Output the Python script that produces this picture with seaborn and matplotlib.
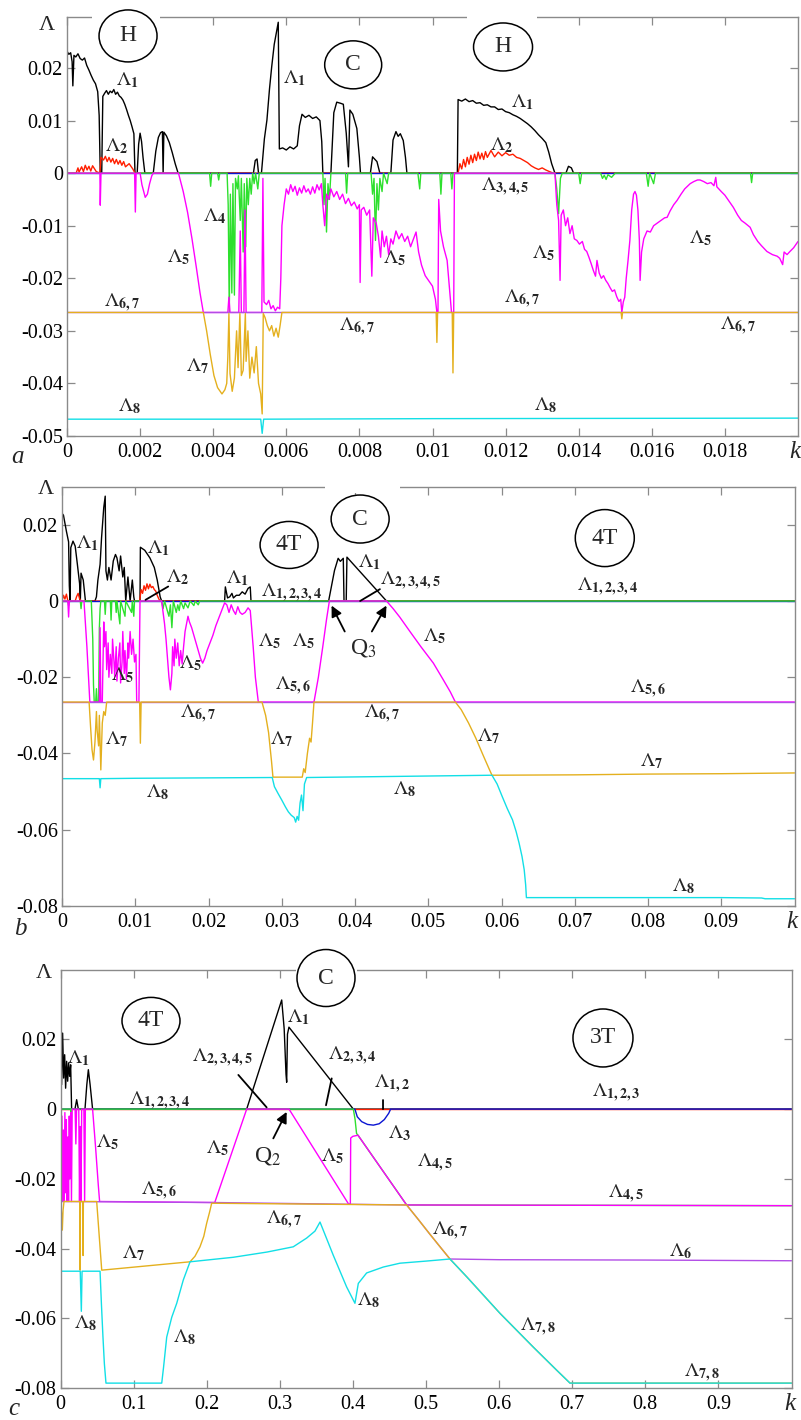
import matplotlib
matplotlib.use("Agg")
import matplotlib.pyplot as plt
import seaborn as sns
from matplotlib.patches import Ellipse, Rectangle
from matplotlib.transforms import blended_transform_factory

# ------------------------------------------------------------------
# Lyapunov spectrum Λ1..Λ8 versus coupling k, three ranges of k
# ------------------------------------------------------------------

# ---------------- panel a : k in [0, 0.02] ----------------
A_L1 = [(0.00000, 0.0232), (0.00005, 0.0226), (0.00010, 0.0229), (0.00014, 0.0212), (0.00016, 0.0166),
        (0.00019, 0.0224), (0.00024, 0.0221), (0.00030, 0.0227), (0.00036, 0.0218), (0.00042, 0.0215),
        (0.00048, 0.0219), (0.00054, 0.0205), (0.00060, 0.0196), (0.00066, 0.0186), (0.00072, 0.0177),
        (0.00078, 0.0170), (0.00084, 0.0155), (0.00088, 0.0110), (0.00091, 0.0000), (0.00095, 0.0000),
        (0.00098, 0.0146), (0.00103, 0.0152), (0.00108, 0.0157), (0.00113, 0.0150), (0.00118, 0.0156),
        (0.00123, 0.0153), (0.00128, 0.0159), (0.00133, 0.0150), (0.00138, 0.0154), (0.00143, 0.0147),
        (0.00148, 0.0144), (0.00153, 0.0139), (0.00158, 0.0131), (0.00163, 0.0121), (0.00168, 0.0110),
        (0.00173, 0.0100), (0.00178, 0.0088), (0.00183, 0.0075), (0.00186, 0.0000), (0.00192, 0.0000),
        (0.00196, 0.0055), (0.00200, 0.0076), (0.00204, 0.0060), (0.00208, 0.0030), (0.00213, 0.0000),
        (0.00236, 0.0000), (0.00243, 0.0042), (0.00250, 0.0068), (0.00256, 0.0077), (0.00261, 0.0079),
        (0.00263, 0.0000), (0.00265, 0.0078), (0.00272, 0.0071), (0.00280, 0.0058), (0.00288, 0.0039),
        (0.00296, 0.0018), (0.00304, 0.0000),
        (0.00510, 0.0000), (0.00515, 0.0024), (0.00520, 0.0027), (0.00524, 0.0000),
        (0.00532, 0.0000), (0.00540, 0.0065), (0.00547, 0.0101), (0.00554, 0.0160), (0.00560, 0.0202),
        (0.00567, 0.0245), (0.00574, 0.0272), (0.00578, 0.0287), (0.00581, 0.0046),
        (0.00590, 0.0048), (0.00600, 0.0044), (0.00610, 0.0050), (0.00620, 0.0046), (0.00630, 0.0052),
        (0.00636, 0.0090), (0.00643, 0.0112), (0.00652, 0.0106), (0.00662, 0.0110), (0.00672, 0.0104),
        (0.00682, 0.0107), (0.00692, 0.0100), (0.00697, 0.0060), (0.00700, 0.0000),
        (0.00722, 0.0000), (0.00730, 0.0115), (0.00738, 0.0135), (0.00748, 0.0133), (0.00756, 0.0131),
        (0.00764, 0.0076), (0.00770, 0.0012), (0.00774, 0.0120), (0.00782, 0.0112), (0.00793, 0.0085),
        (0.00800, 0.0030), (0.00803, 0.0000),
        (0.00830, 0.0000), (0.00836, 0.0031), (0.00848, 0.0022), (0.00856, 0.0000),
        (0.00886, 0.0000), (0.00892, 0.0063), (0.00900, 0.0079), (0.00906, 0.0070), (0.00912, 0.0075),
        (0.00920, 0.0062), (0.00926, 0.0030), (0.00930, 0.0000),
        (0.01068, 0.0000), (0.01070, 0.0140), (0.01080, 0.0137), (0.01090, 0.0141), (0.01100, 0.0136),
        (0.01110, 0.0138), (0.01120, 0.0133), (0.01130, 0.0134), (0.01140, 0.0129), (0.01150, 0.0130),
        (0.01160, 0.0126), (0.01170, 0.0126), (0.01180, 0.0121), (0.01190, 0.0122), (0.01200, 0.0117),
        (0.01210, 0.0115), (0.01220, 0.0111), (0.01230, 0.0108), (0.01240, 0.0104), (0.01250, 0.0099),
        (0.01260, 0.0094), (0.01270, 0.0088), (0.01280, 0.0081), (0.01290, 0.0073), (0.01300, 0.0066),
        (0.01310, 0.0058), (0.01318, 0.0040), (0.01326, 0.0018), (0.01335, 0.0000),
        (0.01365, 0.0000), (0.01372, 0.0013), (0.01380, 0.0010), (0.01386, 0.0000), (0.02000, 0.0000)]

A_L2 = [(0.00000, 0.0000), (0.00025, 0.0000), (0.00030, 0.0010), (0.00033, 0.0002), (0.00040, 0.0012),
        (0.00045, 0.0003), (0.00050, 0.0015), (0.00055, 0.0006), (0.00060, 0.0013), (0.00065, 0.0004),
        (0.00070, 0.0014), (0.00080, 0.0003), (0.00090, 0.0000), (0.00093, 0.0030), (0.00100, 0.0025),
        (0.00105, 0.0032), (0.00110, 0.0022), (0.00115, 0.0030), (0.00120, 0.0021), (0.00125, 0.0028),
        (0.00130, 0.0018), (0.00135, 0.0026), (0.00140, 0.0017), (0.00145, 0.0024), (0.00150, 0.0015),
        (0.00155, 0.0022), (0.00160, 0.0012), (0.00170, 0.0018), (0.00180, 0.0008), (0.00186, 0.0000),
        (0.01070, 0.0000), (0.01075, 0.0018), (0.01080, 0.0008), (0.01085, 0.0026), (0.01090, 0.0012),
        (0.01095, 0.0030), (0.01100, 0.0017), (0.01105, 0.0034), (0.01110, 0.0020), (0.01115, 0.0036),
        (0.01120, 0.0024), (0.01125, 0.0040), (0.01130, 0.0027), (0.01135, 0.0038), (0.01140, 0.0026),
        (0.01145, 0.0041), (0.01150, 0.0030), (0.01160, 0.0043), (0.01170, 0.0031), (0.01180, 0.0040),
        (0.01190, 0.0033), (0.01200, 0.0039), (0.01210, 0.0034), (0.01220, 0.0036), (0.01230, 0.0030),
        (0.01240, 0.0028), (0.01250, 0.0024), (0.01260, 0.0020), (0.01270, 0.0014), (0.01280, 0.0010),
        (0.01290, 0.0007), (0.01300, 0.0010), (0.01310, 0.0006), (0.01320, 0.0003), (0.01330, 0.0000),
        (0.02000, 0.0000)]

A_L3 = [(0.0, 0.0), (0.02, 0.0)]

A_L4 = [(0.00000, 0.0000), (0.00390, 0.0000), (0.00393, -0.0025), (0.00396, 0.0000), (0.00412, 0.0000),
        (0.00415, -0.0013), (0.00418, 0.0000), (0.00438, 0.0000), (0.00441, -0.0060), (0.00444, -0.0265),
        (0.00447, -0.0040), (0.00451, -0.0228), (0.00454, -0.0020), (0.00458, -0.0232), (0.00461, -0.0010),
        (0.00466, -0.0030), (0.00469, -0.0005), (0.00474, -0.0090), (0.00477, -0.0010), (0.00482, -0.0150),
        (0.00485, -0.0020), (0.00489, -0.0140), (0.00492, -0.0010), (0.00496, -0.0060), (0.00500, -0.0010),
        (0.00504, -0.0040), (0.00508, 0.0000), (0.00512, -0.0020), (0.00516, 0.0000), (0.00522, -0.0030),
        (0.00526, 0.0000), (0.00700, 0.0000), (0.00703, -0.0060), (0.00706, -0.0010), (0.00710, -0.0112),
        (0.00714, -0.0020), (0.00718, -0.0050), (0.00722, 0.0000), (0.00762, 0.0000), (0.00765, -0.0038),
        (0.00768, 0.0000), (0.00832, 0.0000), (0.00836, -0.0040), (0.00840, -0.0010), (0.00844, -0.0128),
        (0.00848, -0.0020), (0.00852, -0.0070), (0.00856, -0.0010), (0.00862, -0.0035), (0.00866, 0.0000),
        (0.00876, -0.0020), (0.00880, 0.0000), (0.00960, 0.0000), (0.00965, -0.0030), (0.00968, 0.0000),
        (0.01020, 0.0000), (0.01023, -0.0040), (0.01026, 0.0000), (0.01050, 0.0000), (0.01053, -0.0030),
        (0.01056, 0.0000), (0.01335, 0.0000), (0.01340, -0.0030), (0.01345, -0.0077), (0.01350, -0.0010),
        (0.01355, 0.0000), (0.01400, 0.0000), (0.01404, -0.0020), (0.01408, 0.0000), (0.01460, 0.0000),
        (0.01465, -0.0010), (0.01470, -0.0004), (0.01475, -0.0012), (0.01480, -0.0003), (0.01490, -0.0008),
        (0.01500, 0.0000), (0.01585, 0.0000), (0.01590, -0.0025), (0.01594, 0.0000), (0.01605, -0.0020),
        (0.01610, 0.0000), (0.01870, 0.0000), (0.01873, -0.0018), (0.01876, 0.0000), (0.02000, 0.0000)]

A_L5 = [(0.00000, 0.0000), (0.00090, 0.0000), (0.00091, -0.0061), (0.00093, 0.0000), (0.00185, 0.0000),
        (0.00187, -0.0074), (0.00189, 0.0000), (0.00200, 0.0000), (0.00205, -0.0022), (0.00210, -0.0035),
        (0.00214, -0.0046), (0.00220, -0.0040), (0.00226, -0.0020), (0.00232, -0.0005), (0.00236, 0.0000),
        (0.00305, 0.0000), (0.00318, -0.0035), (0.00330, -0.0075), (0.00342, -0.0125), (0.00354, -0.0180),
        (0.00364, -0.0228), (0.00373, -0.0265), (0.00440, -0.0265), (0.00443, -0.0236), (0.00446, -0.0265),
        (0.00470, -0.0265), (0.00474, -0.0110), (0.00477, -0.0265), (0.00484, -0.0265), (0.00487, -0.0070),
        (0.00490, -0.0265), (0.00533, -0.0265), (0.00536, -0.0010), (0.00539, -0.0245), (0.00546, -0.0250),
        (0.00552, -0.0242), (0.00558, -0.0258), (0.00564, -0.0252), (0.00570, -0.0262), (0.00576, -0.0255),
        (0.00582, -0.0258), (0.00585, -0.0200), (0.00588, -0.0100), (0.00594, -0.0060), (0.00600, -0.0030),
        (0.00606, -0.0040), (0.00612, -0.0022), (0.00618, -0.0035), (0.00624, -0.0025), (0.00630, -0.0042),
        (0.00636, -0.0028), (0.00642, -0.0038), (0.00648, -0.0024), (0.00654, -0.0036), (0.00660, -0.0030),
        (0.00666, -0.0040), (0.00672, -0.0026), (0.00678, -0.0038), (0.00684, -0.0022), (0.00690, -0.0032),
        (0.00696, -0.0020), (0.00700, -0.0060), (0.00705, -0.0100), (0.00710, -0.0040), (0.00716, -0.0050),
        (0.00722, -0.0030), (0.00730, -0.0045), (0.00738, -0.0035), (0.00746, -0.0050), (0.00754, -0.0040),
        (0.00762, -0.0058), (0.00770, -0.0048), (0.00778, -0.0062), (0.00786, -0.0055), (0.00794, -0.0068),
        (0.00800, -0.0060), (0.00802, -0.0208), (0.00805, -0.0070), (0.00812, -0.0065), (0.00820, -0.0080),
        (0.00828, -0.0070), (0.00834, -0.0196), (0.00838, -0.0085), (0.00846, -0.0095), (0.00852, -0.0120),
        (0.00858, -0.0160), (0.00862, -0.0110), (0.00868, -0.0140), (0.00874, -0.0120), (0.00880, -0.0155),
        (0.00886, -0.0125), (0.00892, -0.0135), (0.00900, -0.0110), (0.00908, -0.0125), (0.00916, -0.0115),
        (0.00924, -0.0130), (0.00932, -0.0120), (0.00940, -0.0140), (0.00948, -0.0125), (0.00955, -0.0112),
        (0.00962, -0.0150), (0.00970, -0.0175), (0.00980, -0.0195), (0.00990, -0.0205), (0.01000, -0.0215),
        (0.01008, -0.0240), (0.01012, -0.0265), (0.01015, -0.0265), (0.01017, -0.0050), (0.01022, -0.0110),
        (0.01030, -0.0140), (0.01040, -0.0166), (0.01046, -0.0216), (0.01052, -0.0265), (0.01058, -0.0265),
        (0.01060, 0.0000), (0.01335, 0.0000), (0.01340, -0.0060), (0.01345, -0.0090), (0.01349, -0.0204),
        (0.01352, -0.0080), (0.01358, -0.0070), (0.01364, -0.0100), (0.01370, -0.0085), (0.01376, -0.0115),
        (0.01382, -0.0100), (0.01388, -0.0125), (0.01395, -0.0128), (0.01402, -0.0135), (0.01410, -0.0130),
        (0.01416, -0.0145), (0.01422, -0.0149), (0.01428, -0.0160), (0.01434, -0.0172), (0.01440, -0.0185),
        (0.01446, -0.0196), (0.01450, -0.0166), (0.01456, -0.0190), (0.01462, -0.0200), (0.01468, -0.0195),
        (0.01474, -0.0204), (0.01480, -0.0210), (0.01486, -0.0218), (0.01492, -0.0225), (0.01498, -0.0222),
        (0.01504, -0.0235), (0.01510, -0.0244), (0.01515, -0.0240), (0.01518, -0.0265), (0.01522, -0.0245),
        (0.01526, -0.0236), (0.01530, -0.0200), (0.01535, -0.0166), (0.01540, -0.0128), (0.01545, -0.0070),
        (0.01550, -0.0040), (0.01554, -0.0035), (0.01558, -0.0042), (0.01562, -0.0070), (0.01566, -0.0128),
        (0.01568, -0.0204), (0.01572, -0.0150), (0.01578, -0.0125), (0.01587, -0.0110), (0.01596, -0.0112),
        (0.01605, -0.0100), (0.01615, -0.0095), (0.01625, -0.0090), (0.01635, -0.0085), (0.01642, -0.0084),
        (0.01650, -0.0072), (0.01660, -0.0060), (0.01669, -0.0052), (0.01680, -0.0040), (0.01690, -0.0030),
        (0.01696, -0.0026), (0.01705, -0.0020), (0.01715, -0.0016), (0.01725, -0.0013), (0.01732, -0.0013),
        (0.01742, -0.0016), (0.01752, -0.0020), (0.01762, -0.0018), (0.01770, -0.0024), (0.01775, -0.0008),
        (0.01778, -0.0026), (0.01790, -0.0035), (0.01800, -0.0042), (0.01810, -0.0052), (0.01823, -0.0065),
        (0.01835, -0.0080), (0.01845, -0.0090), (0.01855, -0.0095), (0.01869, -0.0103), (0.01878, -0.0117),
        (0.01890, -0.0130), (0.01900, -0.0138), (0.01915, -0.0149), (0.01930, -0.0155), (0.01943, -0.0158),
        (0.01950, -0.0162), (0.01958, -0.0174), (0.01962, -0.0150), (0.01970, -0.0155), (0.01978, -0.0149),
        (0.01988, -0.0142), (0.02000, -0.0130)]

A_L6 = [(0.0, -0.0265), (0.02, -0.0265)]

A_L7 = [(0.00000, -0.0265), (0.00373, -0.0265), (0.00382, -0.0300), (0.00392, -0.0345), (0.00402, -0.0385),
        (0.00412, -0.0408), (0.00424, -0.0420), (0.00432, -0.0412), (0.00437, -0.0400), (0.00440, -0.0350),
        (0.00443, -0.0267), (0.00446, -0.0381), (0.00452, -0.0415), (0.00458, -0.0390), (0.00464, -0.0300),
        (0.00468, -0.0370), (0.00473, -0.0267), (0.00477, -0.0385), (0.00482, -0.0375), (0.00488, -0.0267),
        (0.00490, -0.0358), (0.00495, -0.0300), (0.00500, -0.0390), (0.00506, -0.0350), (0.00512, -0.0380),
        (0.00518, -0.0330), (0.00524, -0.0400), (0.00530, -0.0420), (0.00534, -0.0458), (0.00537, -0.0267),
        (0.00542, -0.0275), (0.00548, -0.0290), (0.00554, -0.0300), (0.00560, -0.0290), (0.00566, -0.0310),
        (0.00572, -0.0295), (0.00578, -0.0312), (0.00583, -0.0290), (0.00588, -0.0265), (0.01010, -0.0265),
        (0.01012, -0.0322), (0.01014, -0.0265), (0.01054, -0.0265), (0.01056, -0.0380), (0.01058, -0.0265),
        (0.01516, -0.0265), (0.01518, -0.0277), (0.01520, -0.0265), (0.02000, -0.0265)]

A_L8 = [(0.00000, -0.0468), (0.00530, -0.0468), (0.00534, -0.0495), (0.00538, -0.0468), (0.01000, -0.0467),
        (0.02000, -0.0466)]

# ---------------- panel b : k in [0, 0.1] ----------------
B_L1 = [(0.0000, 0.0230), (0.0002, 0.0225), (0.0004, 0.0204), (0.0006, 0.0183), (0.0009, 0.0155),
        (0.0010, 0.0040), (0.0011, 0.0000), (0.0012, 0.0140), (0.0015, 0.0157), (0.0018, 0.0144),
        (0.0021, 0.0096), (0.0024, 0.0046), (0.0025, 0.0000), (0.0026, 0.0073), (0.0029, 0.0055),
        (0.0032, 0.0000), (0.0045, 0.0000), (0.0047, 0.0011), (0.0049, 0.0055), (0.0052, 0.0096),
        (0.0054, 0.0166), (0.0057, 0.0245), (0.0059, 0.0275), (0.0060, 0.0079), (0.0062, 0.0055),
        (0.0064, 0.0088), (0.0067, 0.0055), (0.0070, 0.0105), (0.0073, 0.0122), (0.0075, 0.0113),
        (0.0078, 0.0079), (0.0080, 0.0118), (0.0083, 0.0063), (0.0085, 0.0088), (0.0087, 0.0000),
        (0.0090, 0.0063), (0.0093, 0.0000), (0.0096, 0.0055), (0.0098, 0.0011), (0.0099, 0.0000),
        (0.01065, 0.0000), (0.0107, 0.0141), (0.0113, 0.0133), (0.0120, 0.0113), (0.0126, 0.0088),
        (0.0130, 0.0055), (0.0134, 0.0011), (0.0136, 0.0000), (0.0222, 0.0000), (0.0223, 0.0037),
        (0.0226, 0.0008), (0.0229, 0.0011), (0.0232, 0.0020), (0.0234, 0.0008), (0.0238, 0.0015),
        (0.0242, 0.0015), (0.0246, 0.0024), (0.0250, 0.0018), (0.0254, 0.0033), (0.0257, 0.0037),
        (0.0258, 0.0000), (0.0364, 0.0000), (0.0372, 0.0080), (0.0377, 0.0112), (0.0380, 0.0104),
        (0.0384, 0.0112), (0.0385, 0.0000), (0.0388, 0.0000), (0.0389, 0.0115), (0.0443, 0.0000),
        (0.1000, 0.0000)]

B_L2 = [(0.0000, 0.0000), (0.0002, 0.0015), (0.0004, 0.0005), (0.0006, 0.0018), (0.0008, 0.0000),
        (0.0018, 0.0000), (0.0020, 0.0012), (0.0022, 0.0020), (0.0024, 0.0006), (0.0026, 0.0000),
        (0.0106, 0.0000), (0.0108, 0.0030), (0.0110, 0.0020), (0.0112, 0.0040), (0.0114, 0.0028),
        (0.0116, 0.0045), (0.0118, 0.0032), (0.0120, 0.0044), (0.0122, 0.0035), (0.0124, 0.0038),
        (0.0126, 0.0030), (0.0128, 0.0026), (0.0130, 0.0015), (0.0132, 0.0006), (0.0134, 0.0000),
        (0.1000, 0.0000)]

B_L3 = [(0.0, 0.0), (0.1, 0.0)]

B_L4 = [(0.0000, 0.0000), (0.0008, 0.0000), (0.0009, -0.0012), (0.0010, 0.0000), (0.0025, 0.0000),
        (0.0026, -0.0020), (0.0027, 0.0000), (0.0040, 0.0000), (0.0042, -0.0100), (0.0043, -0.0220),
        (0.0044, -0.0265), (0.0046, -0.0265), (0.0047, -0.0230), (0.0048, -0.0265), (0.0050, -0.0265),
        (0.0051, -0.0070), (0.0052, -0.0020), (0.0053, 0.0000), (0.0058, 0.0000), (0.0059, -0.0035),
        (0.0060, 0.0000), (0.0066, 0.0000), (0.0067, -0.0050), (0.0068, 0.0000), (0.0073, 0.0000),
        (0.0074, -0.0030), (0.0075, 0.0000), (0.0079, -0.0060), (0.0080, 0.0000), (0.0086, -0.0040),
        (0.0087, 0.0000), (0.0095, -0.0030), (0.0096, 0.0000), (0.0098, -0.0040), (0.0099, 0.0000),
        (0.0136, 0.0000), (0.0138, -0.0020), (0.0140, 0.0000), (0.0146, -0.0040), (0.0148, -0.0010),
        (0.0150, -0.0070), (0.0152, 0.0000), (0.0156, -0.0030), (0.0158, -0.0010), (0.0160, -0.0025),
        (0.0162, 0.0000), (0.0166, -0.0020), (0.0168, -0.0005), (0.0172, -0.0018), (0.0175, 0.0000),
        (0.0180, -0.0012), (0.0182, 0.0000), (0.0186, -0.0010), (0.0188, 0.0000), (0.1000, 0.0000)]

B_L5 = [(0.0000, 0.0000), (0.0008, 0.0000), (0.0009, -0.0042), (0.0010, 0.0000), (0.0030, 0.0000),
        (0.0034, -0.0120), (0.0038, -0.0265), (0.0051, -0.0265), (0.0052, -0.0070), (0.0053, -0.0265),
        (0.0055, -0.0265), (0.0057, -0.0055), (0.0058, -0.0120), (0.0060, -0.0080), (0.0061, -0.0180),
        (0.0063, -0.0110), (0.0064, -0.0200), (0.0066, -0.0140), (0.0068, -0.0190), (0.0069, -0.0100),
        (0.0071, -0.0160), (0.0072, -0.0200), (0.0074, -0.0120), (0.0075, -0.0210), (0.0077, -0.0150),
        (0.0079, -0.0110), (0.0080, -0.0215), (0.0082, -0.0160), (0.0083, -0.0080), (0.0085, -0.0190),
        (0.0086, -0.0130), (0.0088, -0.0205), (0.0090, -0.0110), (0.0091, -0.0150), (0.0093, -0.0080),
        (0.0095, -0.0140), (0.0097, -0.0100), (0.0099, -0.0160), (0.0101, -0.0140), (0.0102, -0.0265),
        (0.0105, -0.0265), (0.01065, 0.0000), (0.0136, 0.0000), (0.0138, -0.0030), (0.0140, -0.0060),
        (0.0142, -0.0100), (0.0144, -0.0150), (0.0146, -0.0200), (0.0148, -0.0233), (0.0150, -0.0190),
        (0.0151, -0.0120), (0.0153, -0.0170), (0.0154, -0.0100), (0.0156, -0.0150), (0.0158, -0.0110),
        (0.0160, -0.0170), (0.0162, -0.0130), (0.0164, -0.0165), (0.0166, -0.0120), (0.0168, -0.0080),
        (0.0170, -0.0060), (0.0172, -0.0040), (0.0174, -0.0055), (0.0177, -0.0070), (0.0180, -0.0090),
        (0.0183, -0.0110), (0.0186, -0.0130), (0.0189, -0.0150), (0.0192, -0.0163), (0.0195, -0.0150),
        (0.0198, -0.0130), (0.0202, -0.0110), (0.0206, -0.0090), (0.0210, -0.0065), (0.0214, -0.0045),
        (0.0218, -0.0025), (0.0222, -0.0005), (0.0225, -0.0010), (0.0228, -0.0030), (0.0231, -0.0010),
        (0.0234, -0.0025), (0.0237, -0.0035), (0.0240, -0.0015), (0.0243, -0.0030), (0.0246, -0.0035),
        (0.0250, -0.0030), (0.0254, -0.0018), (0.0257, -0.0025), (0.0261, -0.0120), (0.0264, -0.0200),
        (0.0268, -0.0265), (0.0344, -0.0265), (0.0350, -0.0200), (0.0356, -0.0120), (0.0361, -0.0050),
        (0.0365, 0.0000), (0.0443, 0.0000), (0.0452, -0.0020), (0.0461, -0.0042), (0.0475, -0.0080),
        (0.0490, -0.0120), (0.0507, -0.0163), (0.0520, -0.0205), (0.0530, -0.0238), (0.0537, -0.0265),
        (0.1000, -0.0265)]

B_L6 = [(0.0, -0.0265), (0.1, -0.0265)]

B_L7 = [(0.0000, -0.0265), (0.0037, -0.0265), (0.0039, -0.0330), (0.0041, -0.0390), (0.0043, -0.0417),
        (0.0045, -0.0370), (0.0047, -0.0290), (0.0048, -0.0340), (0.0050, -0.0380), (0.0051, -0.0300),
        (0.0053, -0.0443), (0.0055, -0.0320), (0.0057, -0.0290), (0.0059, -0.0300), (0.0061, -0.0265),
        (0.0106, -0.0265), (0.0107, -0.0373), (0.0108, -0.0265), (0.0273, -0.0265), (0.0278, -0.0300),
        (0.0282, -0.0345), (0.0286, -0.0420), (0.0288, -0.0462), (0.0328, -0.0462), (0.0330, -0.0440),
        (0.0332, -0.0450), (0.0335, -0.0400), (0.0338, -0.0360), (0.0340, -0.0370), (0.0342, -0.0320),
        (0.0344, -0.0265), (0.0537, -0.0265), (0.0545, -0.0285), (0.0555, -0.0320), (0.0565, -0.0360),
        (0.0575, -0.0405), (0.0583, -0.0440), (0.0587, -0.0457), (0.0700, -0.0456), (0.0800, -0.0454),
        (0.0900, -0.0453), (0.1000, -0.0451)]

B_L8 = [(0.0000, -0.0466), (0.0051, -0.0466), (0.0052, -0.0490), (0.0053, -0.0466), (0.0100, -0.0465),
        (0.0287, -0.0463), (0.0290, -0.0487), (0.0295, -0.0505), (0.0300, -0.0522), (0.0305, -0.0540),
        (0.0309, -0.0553), (0.0313, -0.0562), (0.0317, -0.0568), (0.0319, -0.0580), (0.0321, -0.0565),
        (0.0323, -0.0575), (0.0325, -0.0530), (0.0327, -0.0509), (0.0329, -0.0550), (0.0331, -0.0480),
        (0.0334, -0.0463), (0.0587, -0.0457), (0.0594, -0.0480), (0.0601, -0.0513), (0.0608, -0.0545),
        (0.0615, -0.0574), (0.0620, -0.0605), (0.0624, -0.0635), (0.0628, -0.0670), (0.0631, -0.0705),
        (0.0633, -0.0745), (0.0634, -0.0778), (0.0900, -0.0778), (0.0955, -0.0779), (0.0960, -0.0781),
        (0.1000, -0.0781)]

# ---------------- panel c : k in [0, 1] ----------------
C_L1 = [(0.0000, 0.0146), (0.0015, 0.0070), (0.0029, 0.0218), (0.0043, 0.0089), (0.0057, 0.0156),
        (0.0070, 0.0060), (0.0084, 0.0137), (0.0098, 0.0080), (0.0111, 0.0132), (0.0125, 0.0094),
        (0.0139, 0.0127), (0.0152, 0.0000), (0.0198, 0.0000), (0.0221, 0.0027), (0.0244, 0.0000),
        (0.0335, 0.0000), (0.0360, 0.0070), (0.0381, 0.0113), (0.0405, 0.0070), (0.0439, 0.0000),
        (0.2547, 0.0000), (0.3026, 0.0313), (0.3060, 0.0230), (0.3085, 0.0100), (0.3094, 0.0077),
        (0.3105, 0.0215), (0.3125, 0.0235), (0.4006, 0.0000), (1.0000, 0.0000)]

C_L2 = [(0.0, 0.0), (1.0, 0.0)]

C_L3 = [(0.0000, 0.0000), (0.4027, 0.0000), (0.4060, -0.0022), (0.4120, -0.0036), (0.4200, -0.0044),
        (0.4280, -0.0046), (0.4360, -0.0042), (0.4430, -0.0030), (0.4490, -0.0012), (0.4516, 0.0000),
        (1.0000, 0.0000)]

C_L4 = [(0.0000, 0.0000), (0.0140, 0.0000), (0.0143, -0.0030), (0.0146, 0.0000), (0.4006, 0.0000),
        (0.4030, -0.0030), (0.4050, -0.0070), (0.4070, -0.0075), (0.4735, -0.0275), (1.0000, -0.0277)]

C_L5 = [(0.0000, 0.0000), (0.0010, -0.0265), (0.0020, -0.0020), (0.0030, -0.0265), (0.0040, -0.0060),
        (0.0050, -0.0265), (0.0060, -0.0010), (0.0070, -0.0240), (0.0080, -0.0030), (0.0090, -0.0265),
        (0.0100, -0.0080), (0.0110, -0.0265), (0.0120, -0.0020), (0.0130, -0.0200), (0.0140, -0.0010),
        (0.0150, -0.0265), (0.0160, 0.0000), (0.0200, 0.0000), (0.0210, -0.0100), (0.0220, 0.0000),
        (0.0250, 0.0000), (0.0260, -0.0265), (0.0270, -0.0050), (0.0280, -0.0265), (0.0290, 0.0000),
        (0.0320, 0.0000), (0.0330, -0.0265), (0.0340, 0.0000), (0.0439, 0.0000), (0.0480, -0.0110),
        (0.0517, -0.0218), (0.0535, -0.0265), (0.2110, -0.0268), (0.2547, 0.0000), (0.3126, 0.0000),
        (0.3940, -0.0272), (0.3965, -0.0272), (0.3970, -0.0083), (0.4000, -0.0078), (0.4070, -0.0075),
        (0.4735, -0.0275), (1.0000, -0.0277)]

C_L6 = [(0.0000, -0.0265), (0.2110, -0.0268), (0.4735, -0.0275), (0.4900, -0.0318), (0.5050, -0.0358),
        (0.5200, -0.0397), (0.5328, -0.0430), (0.6000, -0.0432), (0.8000, -0.0433), (1.0000, -0.0435)]

C_L7 = [(0.0000, -0.0265), (0.0015, -0.0300), (0.0025, -0.0347), (0.0035, -0.0290), (0.0048, -0.0265),
        (0.0265, -0.0265), (0.0268, -0.0462), (0.0272, -0.0265), (0.0305, -0.0265), (0.0309, -0.0420),
        (0.0313, -0.0265), (0.0495, -0.0265), (0.0564, -0.0462), (0.1772, -0.0438), (0.1840, -0.0422),
        (0.1908, -0.0395), (0.1960, -0.0365), (0.1999, -0.0328), (0.2040, -0.0295), (0.2068, -0.0270),
        (0.4735, -0.0275), (0.4900, -0.0318), (0.5050, -0.0358), (0.5200, -0.0397), (0.5328, -0.0430),
        (0.5557, -0.0481), (0.6013, -0.0586), (0.6469, -0.0683), (0.6788, -0.0749), (0.6970, -0.0786),
        (1.0000, -0.0786)]

C_L8 = [(0.0000, -0.0465), (0.0270, -0.0465), (0.0285, -0.0580), (0.0295, -0.0465), (0.0541, -0.0465),
        (0.0560, -0.0560), (0.0580, -0.0650), (0.0600, -0.0730), (0.0622, -0.0786), (0.1385, -0.0786),
        (0.1410, -0.0740), (0.1453, -0.0654), (0.1522, -0.0597), (0.1590, -0.0557), (0.1680, -0.0490),
        (0.1772, -0.0438), (0.2365, -0.0425), (0.2826, -0.0410), (0.3184, -0.0395), (0.3367, -0.0370),
        (0.3481, -0.0350), (0.3550, -0.0324), (0.3731, -0.0419), (0.3914, -0.0510), (0.4028, -0.0557),
        (0.4074, -0.0500), (0.4188, -0.0470), (0.4416, -0.0453), (0.4644, -0.0442), (0.5000, -0.0436),
        (0.5328, -0.0430), (0.5557, -0.0481), (0.6013, -0.0586), (0.6469, -0.0683), (0.6788, -0.0749),
        (0.6970, -0.0786), (1.0000, -0.0786)]

# axis ticks and their labels
A_XTICKS = [0, 0.002, 0.004, 0.006, 0.008, 0.01, 0.012, 0.014, 0.016, 0.018]
A_XLABELS = ["0", "0.002", "0.004", "0.006", "0.008", "0.01", "0.012", "0.014", "0.016", "0.018"]
A_YTICKS = [-0.05, -0.04, -0.03, -0.02, -0.01, 0, 0.01, 0.02]
A_YLABELS = ["-0.05", "-0.04", "-0.03", "-0.02", "-0.01", "0", "0.01", "0.02"]
B_XTICKS = [0, 0.01, 0.02, 0.03, 0.04, 0.05, 0.06, 0.07, 0.08, 0.09]
B_XLABELS = ["0", "0.01", "0.02", "0.03", "0.04", "0.05", "0.06", "0.07", "0.08", "0.09"]
BC_YTICKS = [-0.08, -0.06, -0.04, -0.02, 0, 0.02]
BC_YLABELS = ["-0.08", "-0.06", "-0.04", "-0.02", "0", "0.02"]
C_XTICKS = [0, 0.1, 0.2, 0.3, 0.4, 0.5, 0.6, 0.7, 0.8, 0.9]
C_XLABELS = ["0", "0.1", "0.2", "0.3", "0.4", "0.5", "0.6", "0.7", "0.8", "0.9"]

# one colour per exponent, Λ1 .. Λ8 (later ones are drawn on top)
COLORS = ["#000000", "#ff1e00", "#0a14d2", "#2ee02e", "#ff00ff", "#b24ee6", "#e4b01e", "#12dfe6"]

# ------------------------------------------------------------------
sns.set_style("ticks")
plt.rcParams["font.family"] = ["Liberation Serif", "DejaVu Serif"]
plt.rcParams["mathtext.fontset"] = "stix"
plt.rcParams["axes.unicode_minus"] = False

W, H = 801, 1420
fig = plt.figure(figsize=(W / 100, H / 100), dpi=100)
ax_a = fig.add_axes([67 / W, 1 - 436 / H, 731 / W, 419 / H])
ax_b = fig.add_axes([62 / W, 1 - 906 / H, 732.5 / W, 419 / H])
ax_c = fig.add_axes([60.5 / W, 1 - 1388 / H, 731 / W, 418 / H])

SPINE = "#8a8a8a"
SERIF = ["Liberation Serif", "DejaVu Serif"]


def draw_spectrum(ax, curves):
    for pts, col in zip(curves, COLORS):
        ks = [p[0] for p in pts]
        ls = [p[1] for p in pts]
        sns.lineplot(x=ks, y=ls, ax=ax, color=col, lw=1.0, sort=False, estimator=None)


def style_axes(ax, xlim, ylim, xt, xl, yt, yl):
    ax.set_xlim(xlim)
    ax.set_ylim(ylim)
    ax.set_xticks(xt)
    ax.set_xticklabels(xl, family=SERIF)
    ax.set_yticks(yt)
    ax.set_yticklabels(yl, family=SERIF)
    ax.set_xlabel("")
    ax.set_ylabel("")
    ax.tick_params(direction="in", length=6, width=0.9, color=SPINE, top=True, right=True,
                   labelsize=14.5, labelcolor="black")
    ax.tick_params(axis="x", pad=5)
    ax.tick_params(axis="y", pad=3)
    for s in ax.spines.values():
        s.set_color(SPINE)
        s.set_linewidth(1.0)


def lam(ax, k, v, sub, fs=14.5):
    ax.text(k, v, r"$\Lambda_{\mathbf{%s}}$" % sub, ha="center", va="center", fontsize=fs, zorder=8)


def badge(ax, k, v, txt, wpx, hpx):
    bb = ax.get_position()
    axw = bb.width * W
    axh = bb.height * H
    x0, x1 = ax.get_xlim()
    y0, y1 = ax.get_ylim()
    ax.add_patch(Ellipse((k, v), wpx * (x1 - x0) / axw, hpx * (y1 - y0) / axh, facecolor="white",
                         edgecolor="black", lw=1.1, zorder=9, clip_on=False))
    ax.text(k, v, txt, ha="center", va="center", fontsize=17, family=SERIF, zorder=10)


def spine_gap(ax, k0, k1):
    tr = blended_transform_factory(ax.transData, ax.transAxes)
    ax.add_patch(Rectangle((k0, 0.985), k1 - k0, 0.03, transform=tr, facecolor="white",
                           edgecolor="none", zorder=8, clip_on=False))


def pointer(ax, tail, head, arrow=False):
    ax.annotate("", xy=head, xytext=tail,
                arrowprops=dict(arrowstyle="-|>" if arrow else "-", color="black", lw=1.3,
                                mutation_scale=16, shrinkA=0, shrinkB=0), zorder=8)


# ---------------- panel a ----------------
draw_spectrum(ax_a, [A_L1, A_L2, A_L3, A_L4, A_L5, A_L6, A_L7, A_L8])
style_axes(ax_a, (0, 0.02), (-0.05, 0.0297), A_XTICKS, A_XLABELS, A_YTICKS, A_YLABELS)
spine_gap(ax_a, 0.00068, 0.00254)
spine_gap(ax_a, 0.01094, 0.01286)
badge(ax_a, 0.00167, 0.0261, "H", 58, 52)
badge(ax_a, 0.00783, 0.0206, "C", 57, 48)
badge(ax_a, 0.01193, 0.0240, "H", 59, 48)
lam(ax_a, 0.00164, 0.0177, "1")
lam(ax_a, 0.00621, 0.0181, "1")
lam(ax_a, 0.01245, 0.0135, "1")
lam(ax_a, 0.00137, 0.0050, "2")
lam(ax_a, 0.01190, 0.0053, "2")
lam(ax_a, 0.01200, -0.0027, "3,4,5")
lam(ax_a, 0.00405, -0.0082, "4")
lam(ax_a, 0.00306, -0.0160, "5")
lam(ax_a, 0.00897, -0.0162, "5")
lam(ax_a, 0.01305, -0.0152, "5")
lam(ax_a, 0.01732, -0.0124, "5")
lam(ax_a, 0.00150, -0.0246, "6,7")
lam(ax_a, 0.00793, -0.0293, "6,7")
lam(ax_a, 0.01245, -0.0240, "6,7")
lam(ax_a, 0.01836, -0.0291, "6,7")
lam(ax_a, 0.00358, -0.0368, "7")
lam(ax_a, 0.00172, -0.0444, "8")
lam(ax_a, 0.01308, -0.0442, "8")

# ---------------- panel b ----------------
draw_spectrum(ax_b, [B_L1, B_L2, B_L3, B_L4, B_L5, B_L6, B_L7, B_L8])
style_axes(ax_b, (0, 0.1), (-0.08, 0.0299), B_XTICKS, B_XLABELS, BC_YTICKS, BC_YLABELS)
spine_gap(ax_b, 0.0359, 0.0461)
badge(ax_b, 0.0310, 0.0147, "4T", 58, 47)
badge(ax_b, 0.0407, 0.0215, "C", 58, 48)
badge(ax_b, 0.0741, 0.0165, "4T", 59, 57)
lam(ax_b, 0.0034, 0.0152, "1")
lam(ax_b, 0.0131, 0.0139, "1")
lam(ax_b, 0.0158, 0.0063, "2")
pointer(ax_b, (0.0145, 0.0038), (0.0114, 0.0003))
lam(ax_b, 0.0239, 0.0060, "1")
lam(ax_b, 0.0313, 0.0021, "1,2,3,4")
lam(ax_b, 0.0420, 0.0102, "1")
lam(ax_b, 0.0476, 0.0052, "2,3,4,5")
pointer(ax_b, (0.0434, 0.0031), (0.0407, 0.0))
ax_b.text(0.0411, -0.0123, r"Q$_{3}$", ha="center", va="center", fontsize=17, family=SERIF, zorder=8)
pointer(ax_b, (0.0386, -0.0080), (0.0368, -0.0012), arrow=True)
pointer(ax_b, (0.0423, -0.0080), (0.0443, -0.0012), arrow=True)
lam(ax_b, 0.0745, 0.0037, "1,2,3,4")
lam(ax_b, 0.0082, -0.0194, "5")
lam(ax_b, 0.0176, -0.0165, "5")
lam(ax_b, 0.0283, -0.0107, "5")
lam(ax_b, 0.0330, -0.0107, "5")
lam(ax_b, 0.0509, -0.0094, "5")
lam(ax_b, 0.0315, -0.0223, "5,6")
lam(ax_b, 0.0800, -0.0231, "5,6")
lam(ax_b, 0.0186, -0.0296, "6,7")
lam(ax_b, 0.0437, -0.0296, "6,7")
lam(ax_b, 0.0075, -0.0364, "7")
lam(ax_b, 0.0300, -0.0364, "7")
lam(ax_b, 0.0583, -0.0356, "7")
lam(ax_b, 0.0805, -0.0422, "7")
lam(ax_b, 0.0130, -0.0503, "8")
lam(ax_b, 0.0468, -0.0495, "8")
lam(ax_b, 0.0848, -0.0750, "8")

# ---------------- panel c ----------------
draw_spectrum(ax_c, [C_L1, C_L2, C_L3, C_L4, C_L5, C_L6, C_L7, C_L8])
style_axes(ax_c, (0, 1.0), (-0.08, 0.0399), C_XTICKS, C_XLABELS, BC_YTICKS, BC_YLABELS)
spine_gap(ax_c, 0.322, 0.405)
badge(ax_c, 0.1238, 0.0253, "4T", 58, 47)
badge(ax_c, 0.3632, 0.0376, "C", 58, 57)
badge(ax_c, 0.7421, 0.0204, "3T", 60, 58)
lam(ax_c, 0.0240, 0.0146, "1")
lam(ax_c, 0.3249, 0.0264, "1")
lam(ax_c, 0.1361, 0.0023, "1,2,3,4")
lam(ax_c, 0.2209, 0.0146, "2,3,4,5")
pointer(ax_c, (0.2433, 0.0098), (0.2820, 0.0005))
lam(ax_c, 0.3988, 0.0152, "2,3,4")
pointer(ax_c, (0.3710, 0.0088), (0.3632, 0.0011))
lam(ax_c, 0.4535, 0.0072, "1,2")
pointer(ax_c, (0.4412, 0.0026), (0.4412, 0.0))
lam(ax_c, 0.4644, -0.0069, "3")
lam(ax_c, 0.7599, 0.0046, "1,2,3")
lam(ax_c, 0.0650, -0.0095, "5")
lam(ax_c, 0.2155, -0.0112, "5")
lam(ax_c, 0.3728, -0.0135, "5")
ax_c.text(0.2839, -0.0135, r"Q$_{2}$", ha="center", va="center", fontsize=17, family=SERIF, zorder=8)
pointer(ax_c, (0.2911, -0.0084), (0.3094, -0.0008), arrow=True)
lam(ax_c, 0.5123, -0.0155, "4,5")
lam(ax_c, 0.7736, -0.0244, "4,5")
lam(ax_c, 0.1347, -0.0235, "5,6")
lam(ax_c, 0.3057, -0.0318, "6,7")
lam(ax_c, 0.5328, -0.0350, "6,7")
lam(ax_c, 0.8475, -0.0407, "6")
lam(ax_c, 0.1005, -0.0413, "7")
lam(ax_c, 0.6532, -0.0626, "7,8")
lam(ax_c, 0.8776, -0.0758, "7,8")
lam(ax_c, 0.0349, -0.0614, "8")
lam(ax_c, 0.1690, -0.0654, "8")
lam(ax_c, 0.4220, -0.0548, "8")

# ---------------- axis names and panel letters ----------------
for (x, y) in [(47, 25), (46, 490), (44, 973)]:
    fig.text(x / W, 1 - y / H, "Λ", ha="center", va="center", fontsize=16, family=SERIF)
for (x, y) in [(795, 452), (792, 922), (790, 1404)]:
    fig.text(x / W, 1 - y / H, "k", ha="center", va="center", fontsize=18, style="italic", family=SERIF)
for (x, y, s) in [(18, 457, "a"), (20, 929, "b"), (14, 1409, "c")]:
    fig.text(x / W, 1 - y / H, s, ha="center", va="center", fontsize=18, style="italic", family=SERIF)

fig.savefig("out.png", dpi=100)
